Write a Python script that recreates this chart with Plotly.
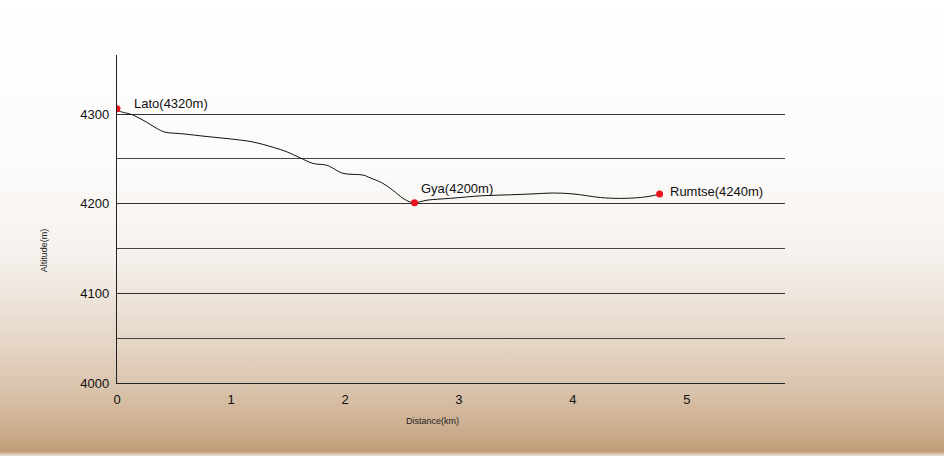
import base64
import plotly.graph_objects as go

# elevation profile
distance_km = [0, 0.01, 0.14, 0.26, 0.35, 0.42, 0.58, 0.79, 1.02, 1.19, 1.37, 1.49,
               1.61, 1.72, 1.84, 1.89, 1.98, 2.16, 2.22, 2.33, 2.42, 2.51, 2.57, 2.61,
               2.72, 2.92, 3.21, 3.45, 3.65, 3.82, 4.0, 4.24, 4.41, 4.59, 4.70, 4.76]
altitude_m = [4306, 4304, 4299, 4291, 4284, 4280, 4278, 4275, 4272, 4269, 4263, 4258,
              4251, 4245, 4243, 4240, 4234, 4232, 4229, 4223, 4215, 4206, 4202, 4201,
              4204, 4206, 4209, 4210, 4211, 4212, 4211, 4207, 4206, 4207, 4209, 4211]

stop_names = ["Lato(4320m)", "Gya(4200m)", "Rumtse(4240m)"]
stop_km = [0, 2.61, 4.76]
stop_alt = [4306, 4201, 4211]
label_shift = [(15, 5), (4, 14), (8, 2)]

y_ticks = [4000, 4100, 4200, 4300]
y_half_lines = [4050, 4150, 4250]
x_ticks = [0, 1, 2, 3, 4, 5]

# paper-like background: white at top fading to tan at the bottom
svg = """<svg xmlns='http://www.w3.org/2000/svg' width='944' height='456' preserveAspectRatio='none'>
<defs><linearGradient id='g' x1='0' y1='0' x2='0' y2='1'>
<stop offset='0' stop-color='#ffffff'/>
<stop offset='0.35' stop-color='#fcfbfa'/>
<stop offset='0.55' stop-color='#f6f2ee'/>
<stop offset='0.64' stop-color='#efe7de'/>
<stop offset='0.75' stop-color='#e5d6c6'/>
<stop offset='0.86' stop-color='#d9c2aa'/>
<stop offset='0.96' stop-color='#c9a888'/>
<stop offset='0.99' stop-color='#c19d79'/>
<stop offset='1' stop-color='#ece4da'/>
</linearGradient></defs>
<rect width='944' height='456' fill='url(#g)'/></svg>"""
bg_src = "data:image/svg+xml;base64," + base64.b64encode(svg.encode()).decode()

fig = go.Figure()
fig.add_trace(go.Scatter(x=distance_km, y=altitude_m, mode="lines",
                         line=dict(color="#111111", width=1, shape="spline"),
                         hoverinfo="skip", showlegend=False))
fig.add_trace(go.Scatter(x=stop_km, y=stop_alt, mode="markers",
                         marker=dict(color="#e8141c", size=7),
                         text=stop_names, showlegend=False))

for name, xk, ya, (dx, dy) in zip(stop_names, stop_km, stop_alt, label_shift):
    fig.add_annotation(x=xk, y=ya, text=name, showarrow=False,
                       xanchor="left", yanchor="middle", xshift=dx, yshift=dy,
                       font=dict(family="Liberation Sans, Arial", size=13, color="#111111"))

fig.add_annotation(text="Distance(km)", xref="paper", yref="paper", x=0.4716, y=-0.116,
                   showarrow=False, xanchor="center", yanchor="middle",
                   font=dict(family="Liberation Sans, Arial", size=9, color="#222222"))
fig.add_annotation(text="Altitude(m)", xref="paper", yref="paper", x=-0.109, y=0.405,
                   showarrow=False, textangle=-90, xanchor="center", yanchor="middle",
                   font=dict(family="Liberation Sans, Arial", size=9, color="#222222"))

fig.add_layout_image(dict(source=bg_src, xref="paper", yref="paper",
                          x=-117 / 668, y=1 + 55 / 328, sizex=944 / 668, sizey=456 / 328,
                          xanchor="left", yanchor="top", sizing="stretch", layer="below"))

fig.update_layout(
    width=944, height=456,
    margin=dict(l=117, r=159, t=55, b=73),
    paper_bgcolor="white", plot_bgcolor="rgba(0,0,0,0)",
    font=dict(family="Liberation Sans, Arial", size=13, color="#111111"),
    xaxis=dict(range=[0, 5.86], tickvals=x_ticks, showgrid=False, zeroline=False,
               showline=True, linecolor="#222222", linewidth=1.3,
               ticks="", ticklabelstandoff=4, fixedrange=True),
    yaxis=dict(range=[4000, 4366], tickvals=y_ticks, showgrid=True,
               gridcolor="#333333", gridwidth=1, zeroline=False,
               showline=True, linecolor="#222222", linewidth=1.3,
               ticks="", ticklabelstandoff=4,
               minor=dict(tickvals=y_half_lines, showgrid=True, gridcolor="#444444", gridwidth=1),
               fixedrange=True),
)

fig.write_html("out.html", config={"displayModeBar": False},
               post_script="document.body.style.margin='0';")
